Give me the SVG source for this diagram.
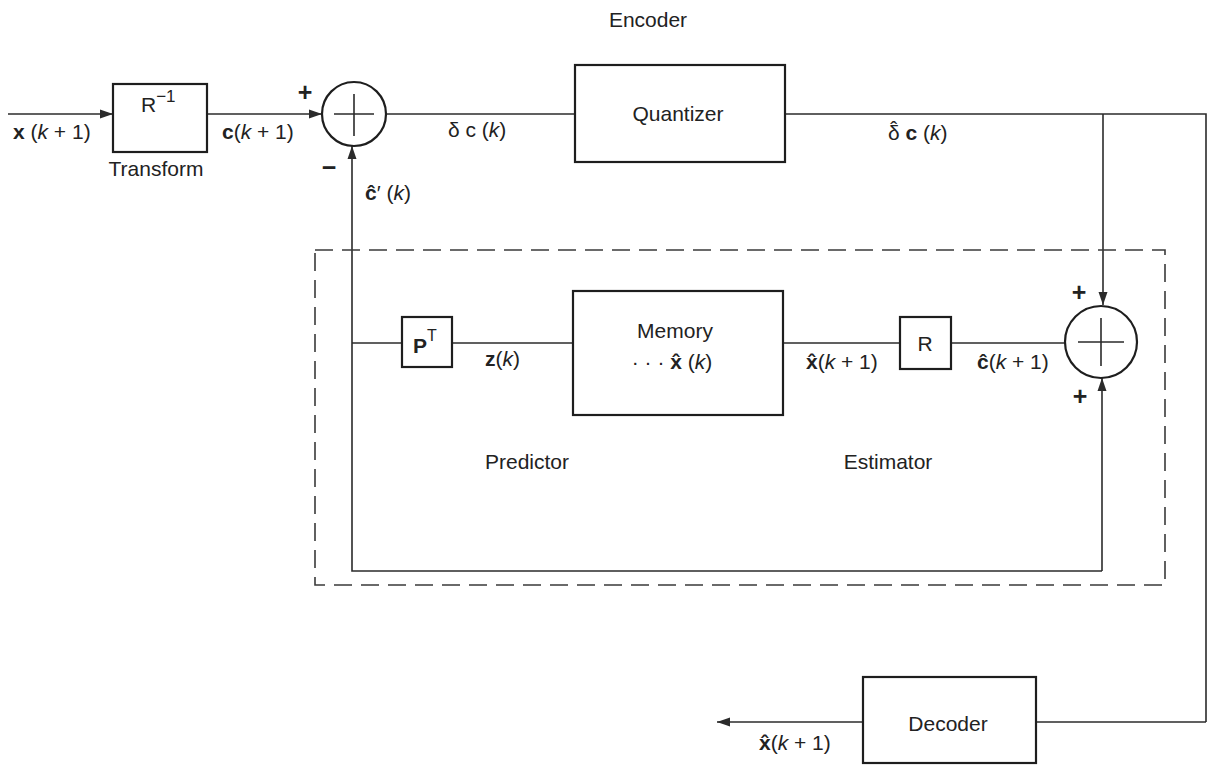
<svg xmlns="http://www.w3.org/2000/svg" width="1209" height="771" viewBox="0 0 1209 771">
<style>
.ln{stroke:#2b2b2b;stroke-width:1.6;fill:none}
.box{stroke:#1e1e1e;stroke-width:2.2;fill:#fff}
.dash{stroke:#3a3a3a;stroke-width:1.6;fill:none;stroke-dasharray:18 9}
.t{font-family:"Liberation Sans",Arial,sans-serif;font-size:21px;fill:#222}
.lb{font-family:"Liberation Sans",Arial,sans-serif;font-size:21px;fill:#222}
.sg{font-family:"Liberation Sans",Arial,sans-serif;font-size:25px;font-weight:bold;fill:#222}
.b{font-weight:bold}
.i{font-style:italic}
</style>
<defs>
<marker id="ah" markerUnits="userSpaceOnUse" markerWidth="14" markerHeight="10" refX="13" refY="5" orient="auto">
<path d="M0,0.5 L13,5 L0,9.5 Z" fill="#2b2b2b"/>
</marker>
</defs>
<rect width="1209" height="771" fill="#fff"/>
<g id="connectors">
<path class="ln" d="M8,114 H113" marker-end="url(#ah)"/>
<path class="ln" d="M207,114 H322" marker-end="url(#ah)"/>
<path class="ln" d="M386,114 H575"/>
<path class="ln" d="M785,114 H1206 V722"/>
<path class="ln" d="M1103,114 V305" marker-end="url(#ah)"/>
<path class="ln" d="M1206,722 H1036"/>
<path class="ln" d="M863,722 H717" marker-end="url(#ah)"/>
<path class="ln" d="M352,343 H402"/>
<path class="ln" d="M452,343 H573"/>
<path class="ln" d="M783,343 H900"/>
<path class="ln" d="M951,343 H1065"/>
<path class="ln" d="M1102,571 V378" marker-end="url(#ah)"/>
<path class="ln" d="M1102,571 H352 V146" marker-end="url(#ah)"/>
</g>
<g id="boundary">
<rect class="dash" x="315" y="250" width="850" height="335"/>
</g>
<g id="encoder-label"><text class="t" x="648" y="27" text-anchor="middle">Encoder</text></g>
<g id="transform">
<rect class="box" x="113" y="84" width="94" height="68"/>
<text class="t" x="141" y="112" font-size="22">R<tspan font-size="17" dy="-10">−1</tspan></text>
<text class="t" x="156" y="176" text-anchor="middle">Transform</text>
</g>
<g id="sum1">
<circle class="box" cx="354" cy="114" r="32"/>
<path class="ln" d="M334,114 H374 M354,94 V136"/>
<text class="sg" x="305" y="101" text-anchor="middle">+</text>
<text class="sg" x="329" y="176" text-anchor="middle">−</text>
</g>
<g id="quantizer">
<rect class="box" x="575" y="65" width="210" height="97"/>
<text class="t" x="678" y="121" text-anchor="middle" font-size="22">Quantizer</text>
</g>
<g id="predictor">
<rect class="box" x="402" y="317" width="50" height="50"/>
<text class="t" x="413" y="353" font-size="22"><tspan class="b">P</tspan><tspan font-size="16" dy="-12">T</tspan></text>
<text class="t" x="527" y="469" text-anchor="middle">Predictor</text>
</g>
<g id="memory">
<rect class="box" x="573" y="291" width="210" height="124"/>
<text class="t" x="675" y="338" text-anchor="middle">Memory</text>
<text class="t" x="672" y="369" text-anchor="middle">· · ·  <tspan class="b">x̂</tspan> (<tspan class="i">k</tspan>)</text>
</g>
<g id="estimator">
<rect class="box" x="900" y="317" width="51" height="52"/>
<text class="t" x="925" y="351" text-anchor="middle" font-size="22">R</text>
<text class="t" x="888" y="469" text-anchor="middle">Estimator</text>
</g>
<g id="sum2">
<circle class="box" cx="1101" cy="342" r="36"/>
<path class="ln" d="M1078,342 H1124 M1101,318 V366"/>
<text class="sg" x="1079" y="301" text-anchor="middle">+</text>
<text class="sg" x="1080" y="405" text-anchor="middle">+</text>
</g>
<g id="decoder">
<rect class="box" x="863" y="677" width="173" height="86"/>
<text class="t" x="948" y="731" text-anchor="middle">Decoder</text>
</g>
<g id="labels">
<text class="lb" x="13" y="139"><tspan class="b">x</tspan> (<tspan class="i">k</tspan> + 1)</text>
<text class="lb" x="222" y="139"><tspan class="b">c</tspan>(<tspan class="i">k</tspan> + 1)</text>
<text class="lb" x="448" y="137">δ c (<tspan class="i">k</tspan>)</text>
<text class="lb" x="888" y="140">δ<tspan dx="-9.5" dy="-4">ˆ</tspan><tspan dx="2.5" dy="4"> </tspan><tspan class="b">c</tspan> (<tspan class="i">k</tspan>)</text>
<text class="lb" x="365" y="200"><tspan class="b">ĉ</tspan>′ (<tspan class="i">k</tspan>)</text>
<text class="lb" x="485" y="366"><tspan class="b">z</tspan>(<tspan class="i">k</tspan>)</text>
<text class="lb" x="806" y="369"><tspan class="b">x̂</tspan>(<tspan class="i">k</tspan> + 1)</text>
<text class="lb" x="977" y="369"><tspan class="b">ĉ</tspan>(<tspan class="i">k</tspan> + 1)</text>
<text class="lb" x="759" y="750"><tspan class="b">x̂</tspan>(<tspan class="i">k</tspan> + 1)</text>
</g>
</svg>
